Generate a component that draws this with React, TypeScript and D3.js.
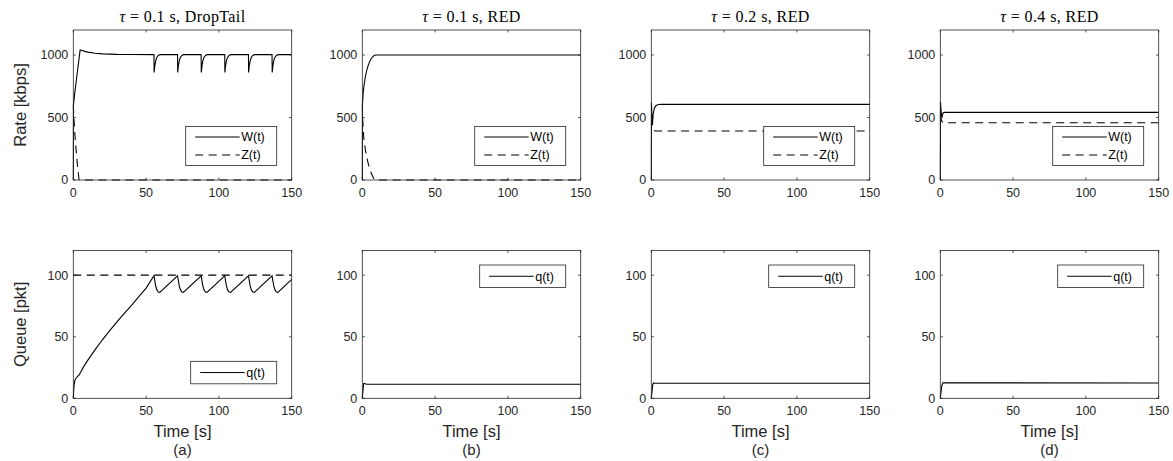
import React from 'react';
import * as d3 from 'd3';

type P = [number, number];

// ---- labels / ticks ----
const panelLabels = ['(a)', '(b)', '(c)', '(d)'];
const tauLabels = ['0.1', '0.1', '0.2', '0.4'];
const schemeLabels = ['DropTail', 'RED', 'RED', 'RED'];
const timeTicks = [0, 50, 100, 150];
const rateTicks = [0, 500, 1000];
const queueTicks = [0, 50, 100];
const timeDomain: P = [0, 150];
const rateDomain: P = [0, 1200];
const queueDomain: P = [0, 120];

// ---- rate W(t), Z(t) [kbps] ----
const wA: P[] = [
  [0, 0], [0.1, 600], [1, 695], [2, 790], [3, 885], [4, 975], [4.7, 1040], [6, 1036], [8, 1029], [10, 1023],
  [15, 1014], [20, 1009], [30, 1005], [40, 1004], [55.4, 1003],
  [55.5, 860], [56, 915], [56.6, 955], [57.4, 982], [58.4, 997], [59.6, 1003],
  [71.6, 1003], [71.7, 860], [72.2, 915], [72.8, 955], [73.6, 982], [74.6, 997], [75.8, 1003],
  [87.8, 1003], [87.9, 860], [88.4, 915], [89, 955], [89.8, 982], [90.8, 997], [92, 1003],
  [104, 1003], [104.1, 860], [104.6, 915], [105.2, 955], [106, 982], [107, 997], [108.2, 1003],
  [120.3, 1003], [120.4, 860], [120.9, 915], [121.5, 955], [122.3, 982], [123.3, 997], [124.5, 1003],
  [136.5, 1003], [136.6, 860], [137.1, 915], [137.7, 955], [138.5, 982], [139.5, 997], [140.7, 1003],
  [150, 1003],
];
const zA: P[] = [[0, 600], [0.5, 480], [1, 380], [2, 230], [3, 100], [4, 0], [150, 0]];

const wB: P[] = [
  [0, 0], [0.1, 600], [0.5, 680], [1, 740], [2, 820], [3, 875], [4, 915], [5, 945], [6, 968], [7, 984],
  [8, 995], [9, 1000], [150, 1000],
];
const zB: P[] = [
  [0, 600], [0.3, 480], [1, 340], [2, 250], [3, 185], [4, 135], [5, 95], [6, 60], [7, 32], [8, 10], [8.8, 0], [150, 0],
];

const wC: P[] = [
  [0, 0], [0.1, 620], [0.4, 520], [0.8, 440], [1.2, 520], [2, 570], [3, 592], [4, 600], [5, 604], [7, 605], [150, 605],
];
const zC: P[] = [[0, 500], [1, 420], [2, 395], [3, 392], [150, 392]];

const wD: P[] = [
  [0, 0], [0.1, 626], [0.5, 560], [1, 500], [1.5, 520], [2, 538], [3, 541], [150, 541],
];
const zD: P[] = [[0, 520], [1, 470], [2, 458], [150, 458]];

// ---- queue q(t) [pkt] ----
const qA: P[] = [
  [0, 0], [0.3, 7], [0.7, 12], [1.2, 15], [2, 16.5], [3, 17.8], [4, 19], [5, 21], [7, 25.5], [10, 31], [15, 39.5],
  [20, 47.5], [25, 55], [30, 62], [35, 69], [40, 75.5], [45, 82.5], [50, 89.5], [55.4, 99.5],
  [55.9, 96], [56.6, 91], [57.4, 88], [58.4, 86.3], [59.4, 86],
  [71.6, 99.5], [72.1, 96], [72.8, 91], [73.6, 88], [74.6, 86.3], [75.6, 86],
  [87.8, 99.5], [88.3, 96], [89, 91], [89.8, 88], [90.8, 86.3], [91.8, 86],
  [104, 99.5], [104.5, 96], [105.2, 91], [106, 88], [107, 86.3], [108, 86],
  [120.3, 99.5], [120.8, 96], [121.5, 91], [122.3, 88], [123.3, 86.3], [124.3, 86],
  [136.5, 99.5], [137, 96], [137.7, 91], [138.5, 88], [139.5, 86.3], [140.5, 86],
  [150, 96.5],
];
const qMaxA: P[] = [[0, 100], [150, 100]];
const qB: P[] = [[0, 0], [0.5, 7], [1, 12], [1.5, 12.2], [2, 11.8], [3, 11.4], [150, 11.4]];
const qC: P[] = [[0, 0], [1, 11], [1.5, 12.5], [2, 12.2], [150, 12.2]];
const qD: P[] = [[0, 0], [1, 10], [1.8, 12.6], [150, 12.4]];

const wSeries = [wA, wB, wC, wD];
const zSeries = [zA, zB, zC, zD];
const qSeries = [qA, qB, qC, qD];

// ---- layout ----
const W = 1173;
const H = 461;
const left0 = 73.3;
const colStep = 289;
const plotW = 218.4;
const topRow = { y0: 30, y1: 180 };
const botRow = { y0: 250.5, y1: 398.3 };
const AX = '#262626';
const SANS = 'Liberation Sans, Arial, Helvetica, sans-serif';
const SERIF = 'Liberation Serif, Times New Roman, serif';
const DASH = '8,5.5';

type LegItem = { label: string; dash?: string };

function Legend({ x, y, w, items }: { x: number; y: number; w: number; items: LegItem[] }) {
  const rowH = 18;
  const h = items.length === 1 ? 22.5 : 39;
  return (
    <g>
      <rect x={x} y={y} width={w} height={h} fill="white" stroke={AX} strokeWidth={0.8} />
      {items.map((it, i) => {
        const cy = items.length === 1 ? y + h / 2 : y + 10.5 + i * rowH;
        return (
          <g key={i}>
            <line x1={x + 9.5} x2={x + 54} y1={cy} y2={cy} stroke="black" strokeWidth={1} strokeDasharray={it.dash} />
            <text x={x + 55.5} y={cy + 4.4} fontSize={12.5} fontFamily={SANS} fill="black">{it.label}</text>
          </g>
        );
      })}
    </g>
  );
}

function Panel({
  x0, row, yDomain, yTicks, series, legend, legendPos, ylabel, xlabel, title, sub,
}: {
  x0: number;
  row: { y0: number; y1: number };
  yDomain: P;
  yTicks: number[];
  series: { data: P[]; dash?: string }[];
  legend: LegItem[];
  legendPos: 'br' | 'tr';
  ylabel?: string;
  xlabel?: boolean;
  title?: React.ReactNode;
  sub?: string;
}) {
  const xs = d3.scaleLinear().domain(timeDomain).range([x0, x0 + plotW]);
  const ys = d3.scaleLinear().domain(yDomain).range([row.y1, row.y0]);
  const line = d3.line<P>().x((d) => xs(d[0])).y((d) => ys(d[1]));
  const tl = 2.5;
  const clipId = `clip-${Math.round(x0)}-${Math.round(row.y0)}`;
  const legW = legend.length === 1 ? 86 : 91;
  const legH = legend.length === 1 ? 22.5 : 39;
  const lx = x0 + plotW - 15 - legW;
  const ly = legendPos === 'br' ? row.y1 - 14.5 - legH : row.y0 + 14.5;
  const cx = (x0 + x0 + plotW) / 2;
  return (
    <g>
      <defs>
        <clipPath id={clipId}>
          <rect x={x0 - 1} y={row.y0 - 1} width={plotW + 2} height={row.y1 - row.y0 + 2} />
        </clipPath>
      </defs>
      <rect x={x0} y={row.y0} width={plotW} height={row.y1 - row.y0} fill="white" />
      <g clipPath={`url(#${clipId})`}>
        {series.map((s, i) => (
          <path key={i} d={line(s.data) || ''} fill="none" stroke="black" strokeWidth={1.1} strokeDasharray={s.dash} />
        ))}
      </g>
      {timeTicks.map((t) => (
        <g key={`xt${t}`}>
          <line x1={xs(t)} x2={xs(t)} y1={row.y1} y2={row.y1 - tl} stroke={AX} strokeWidth={0.8} />
          <line x1={xs(t)} x2={xs(t)} y1={row.y0} y2={row.y0 + tl} stroke={AX} strokeWidth={0.8} />
          <text x={xs(t)} y={row.y1 + 16.5} textAnchor="middle" fontSize={12.5} fontFamily={SANS} fill={AX}>{t}</text>
        </g>
      ))}
      {yTicks.map((t) => (
        <g key={`yt${t}`}>
          <line x1={x0} x2={x0 + tl} y1={ys(t)} y2={ys(t)} stroke={AX} strokeWidth={0.8} />
          <line x1={x0 + plotW} x2={x0 + plotW - tl} y1={ys(t)} y2={ys(t)} stroke={AX} strokeWidth={0.8} />
          <text x={x0 - 5} y={ys(t) + 4.4} textAnchor="end" fontSize={12.5} fontFamily={SANS} fill={AX}>{t}</text>
        </g>
      ))}
      <rect x={x0} y={row.y0} width={plotW} height={row.y1 - row.y0} fill="none" stroke={AX} strokeWidth={0.8} />
      <Legend x={lx} y={ly} w={legW} items={legend} />
      {ylabel && (
        <text
          transform={`translate(${x0 - 47},${(row.y0 + row.y1) / 2}) rotate(-90)`}
          textAnchor="middle"
          fontSize={16.5}
          fontFamily={SANS}
          fill={AX}
        >
          {ylabel}
        </text>
      )}
      {title && (
        <text x={cx} y={row.y0 - 8.5} textAnchor="middle" fontSize={16} letterSpacing={0.4} fontFamily={SERIF} fill="black">
          {title}
        </text>
      )}
      {xlabel && (
        <text x={cx} y={row.y1 + 39} textAnchor="middle" fontSize={16.5} fontFamily={SANS} fill={AX}>
          Time [s]
        </text>
      )}
      {sub && (
        <text x={cx} y={row.y1 + 57} textAnchor="middle" fontSize={15} fontFamily={SANS} fill={AX}>
          {sub}
        </text>
      )}
    </g>
  );
}

export default function App() {
  return (
    <svg
      width={W}
      height={H}
      viewBox={`0 0 ${W} ${H}`}
      style={{ position: 'absolute', left: 0, top: 0, background: 'white' }}
    >
      <rect x={0} y={0} width={W} height={H} fill="white" />
      {panelLabels.map((lab, i) => {
        const x0 = left0 + i * colStep;
        const title = (
          <>
            <tspan fontStyle="italic">τ</tspan>
            {` = ${tauLabels[i]} s, ${schemeLabels[i]}`}
          </>
        );
        const qs: { data: P[]; dash?: string }[] = [{ data: qSeries[i] }];
        if (i === 0) qs.push({ data: qMaxA, dash: DASH });
        return (
          <g key={lab}>
            <Panel
              x0={x0}
              row={topRow}
              yDomain={rateDomain}
              yTicks={rateTicks}
              series={[{ data: wSeries[i] }, { data: zSeries[i], dash: DASH }]}
              legend={[{ label: 'W(t)' }, { label: 'Z(t)', dash: DASH }]}
              legendPos="br"
              ylabel={i === 0 ? 'Rate [kbps]' : undefined}
              title={title}
            />
            <Panel
              x0={x0}
              row={botRow}
              yDomain={queueDomain}
              yTicks={queueTicks}
              series={qs}
              legend={[{ label: 'q(t)' }]}
              legendPos={i === 0 ? 'br' : 'tr'}
              ylabel={i === 0 ? 'Queue [pkt]' : undefined}
              xlabel
              sub={lab}
            />
          </g>
        );
      })}
    </svg>
  );
}
